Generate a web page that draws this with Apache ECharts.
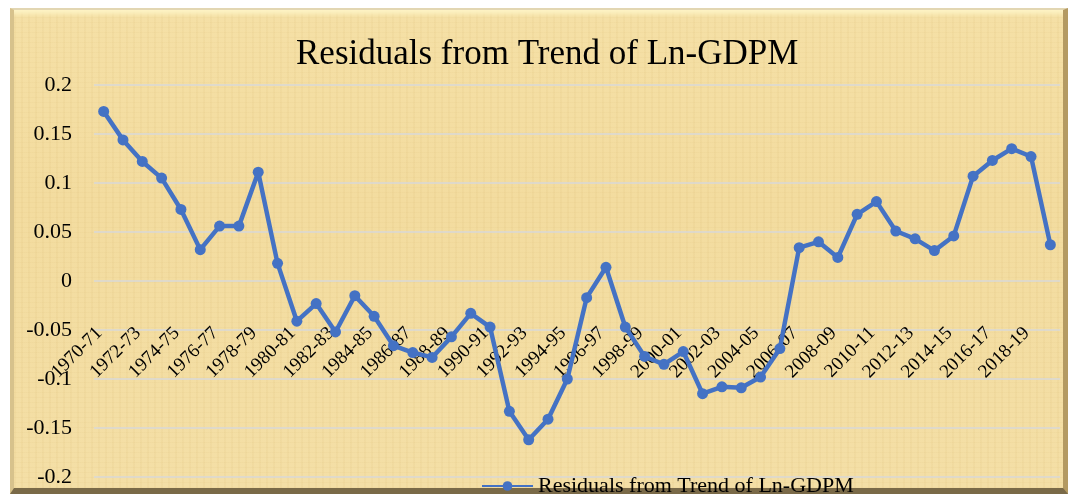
<!DOCTYPE html>
<html>
<head>
<meta charset="utf-8">
<script src="https://cdn.jsdelivr.net/npm/echarts@6/dist/echarts.min.js"></script>
<style>
  html, body { margin: 0; padding: 0; background: #ffffff; }
  #frame {
    position: absolute;
    left: 10px; top: 8px;
    width: 1058px; height: 486px;
    box-sizing: border-box;
    background:
      repeating-linear-gradient(90deg, rgba(190,150,70,0.06) 0px, rgba(190,150,70,0.06) 2px, rgba(255,255,255,0) 2px, rgba(255,255,255,0) 7px),
      repeating-linear-gradient(0deg, rgba(190,150,70,0.05) 0px, rgba(190,150,70,0.05) 1px, rgba(255,255,255,0) 1px, rgba(255,255,255,0) 5px),
      linear-gradient(180deg, #f5e0a6 0%, #f3dc9f 40%, #f4dfa6 100%);
    border-top: 2px solid #e2d6b2;
    border-left: 4px solid #d7c28c;
    border-right: 5px solid #b49a62;
    border-bottom: 6px solid #7a6a48;
    box-shadow: inset 0 10px 4px -6px #fdf3c4;
  }
  #main {
    position: absolute;
    left: 0; top: 0;
    width: 1073px; height: 494px;
  }
</style>
</head>
<body>
<div id="frame"></div>
<div id="main"></div>
<script>
// categories (fiscal years)
var years = [
  "1970-71", "1971-72", "1972-73", "1973-74", "1974-75", "1975-76", "1976-77", "1977-78", "1978-79", "1979-80",
  "1980-81", "1981-82", "1982-83", "1983-84", "1984-85", "1985-86", "1986-87", "1987-88", "1988-89", "1989-90",
  "1990-91", "1991-92", "1992-93", "1993-94", "1994-95", "1995-96", "1996-97", "1997-98", "1998-99", "1999-00",
  "2000-01", "2001-02", "2002-03", "2003-04", "2004-05", "2005-06", "2006-07", "2007-08", "2008-09", "2009-10",
  "2010-11", "2011-12", "2012-13", "2013-14", "2014-15", "2015-16", "2016-17", "2017-18", "2018-19", "2019-20"
];

// residuals
var residuals = [
  0.173, 0.144, 0.122, 0.105, 0.073, 0.032, 0.056, 0.056, 0.111, 0.018,
  -0.041, -0.023, -0.052, -0.015, -0.036, -0.066, -0.073, -0.078, -0.057, -0.033,
  -0.047, -0.133, -0.162, -0.141, -0.100, -0.017, 0.014, -0.047, -0.077, -0.085,
  -0.072, -0.115, -0.108, -0.109, -0.098, -0.069, 0.034, 0.040, 0.024, 0.068,
  0.081, 0.051, 0.043, 0.031, 0.046, 0.107, 0.123, 0.135, 0.127, 0.037
];

var seriesName = "Residuals from Trend of Ln-GDPM";
var titleText = "Residuals from Trend of Ln-GDPM";

var font = "'Liberation Serif', 'Times New Roman', serif";

var chart = echarts.init(document.getElementById("main"));

var option = {
  animation: false,
  title: {
    text: titleText,
    left: 291,
    top: 32,
    textStyle: {
      fontFamily: font,
      fontSize: 35,
      fontWeight: "normal",
      color: "#000000"
    }
  },
  legend: {
    data: [seriesName],
    left: 476,
    top: 470,
    itemWidth: 51,
    itemHeight: 12,
    itemGap: 10,
    textStyle: {
      fontFamily: font,
      fontSize: 22,
      color: "#000000"
    }
  },
  grid: {
    left: 94,
    right: 13,
    top: 85,
    bottom: 17,
    containLabel: false,
    outerBoundsMode: "none"
  },
  xAxis: {
    type: "category",
    data: years,
    boundaryGap: true,
    // labels hang from the zero line, as in the original
    offset: -196,
    axisLine: { show: false, onZero: false },
    axisTick: { show: false },
    axisLabel: {
      interval: 1,
      rotate: 45,
      margin: 45,
      padding: [0, 6, 0, 0],
      fontFamily: font,
      fontSize: 19,
      color: "#000000"
    }
  },
  yAxis: {
    type: "value",
    min: -0.2,
    max: 0.2,
    interval: 0.05,
    axisLine: { show: false },
    axisTick: { show: false },
    axisLabel: {
      margin: 22,
      fontFamily: font,
      fontSize: 22,
      color: "#000000"
    },
    splitLine: {
      lineStyle: { color: "#d9d9d9", width: 1.5 }
    }
  },
  series: [
    {
      name: seriesName,
      type: "line",
      data: residuals,
      symbol: "circle",
      symbolSize: 11,
      lineStyle: { color: "#4472c4", width: 4.5 },
      itemStyle: { color: "#4472c4" }
    }
  ]
};

chart.setOption(option);
</script>
</body>
</html>
